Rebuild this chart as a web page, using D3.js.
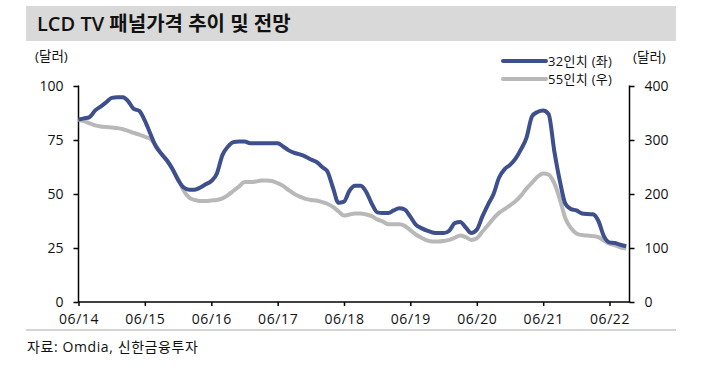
<!DOCTYPE html>
<html><head><meta charset="utf-8">
<script src="https://cdn.jsdelivr.net/npm/d3@7"></script>
<style>
body{margin:0;background:#fff;}
text{font-family:"Open Sans","Noto Sans CJK KR",sans-serif;fill:#111;}
</style></head>
<body><svg id="c" width="715" height="371"></svg>
<script>
// Monthly data, Jun 2014 .. Sep 2022
const startMonth = "2014-06";
const series32 = [84.5,85,85.6,88.7,90.5,92.5,94.5,94.8,94.8,93,89.4,88.5,84,78,72,68.5,65.5,61.5,56.5,53,
52,52,53,54.5,56,59.4,68,72,74,74.3,74.3,73.5,73.5,73.5,73.5,73.5,73.5,72,70.2,69,
68.3,67.3,66,64.8,62.5,60.5,53,46,46.5,51.5,53.8,53.8,51,45.5,41.5,41.2,41.2,42.4,43.4,42.8,
39.5,35.8,34.2,33,32.2,31.9,31.9,33,36.5,37,34.5,32,33.5,39.5,45,50,57.5,61.5,63.5,66.5,
71,76,86,88,88.7,87,70,56,45.5,43,42.4,41,40.7,40.6,37.5,30.5,27.6,27.3,26.5,25.8];
const series55 = [338,335,331,327,325,324,323,322,320,317,313,310,306,302,290,274,262,245,228,206,
193,189,187,187,188,189,192,198,206,214,222,222,223,225,225,224,220,215,207,200,
195,191,189,188,185,182,176,168,160,162,164,164,162,159,153,149,144,144,144,141,
133,125,119,114,112,112,113,115,119,123,120,115,118,130,142,155,165,172,179,187,
198,210,221,232,238,236,220,190,155,137,127,124,123,122,120,114,108,105,101,99];
const leftTicks = [0,25,50,75,100];
const rightTicks = [0,100,200,300,400];
const xTickYears = [2014,2015,2016,2017,2018,2019,2020,2021,2022];
const seriesNames = ["32인치 (좌)","55인치 (우)"];
const title = "LCD TV 패널가격 추이 및 전망";
const unitLabel = "(달러)";
const sourceText = "자료: Omdia, 신한금융투자";

const svg = d3.select("#c");
const parse = d3.utcParse("%Y-%m");
const t0 = parse(startMonth);
const dates = series32.map((_, i) => d3.utcMonth.offset(t0, i));

const L = 78.5, R = 629.5, B = 302, T = 86;
const x = d3.scaleUtc().domain([t0, d3.utcMonth.offset(t0, 96)]).range([L, 609.5]);
const yL = d3.scaleLinear().domain([0,100]).range([B, T]);
const yR = d3.scaleLinear().domain([0,400]).range([B, T]);

// Title band
svg.append("rect").attr("x",26).attr("y",6).attr("width",650).attr("height",35).attr("fill","#d9d9d9");
svg.append("text").attr("x",37).attr("y",31).attr("font-size",20).attr("font-weight",600).text(title);

// Unit labels
svg.append("text").attr("x",35).attr("y",61).attr("font-size",13.5).text(unitLabel);
svg.append("text").attr("x",633).attr("y",62).attr("font-size",13.5).text(unitLabel);

// Axes
const ax = svg.append("g").attr("stroke","#000").attr("stroke-width",1.5);
ax.append("line").attr("x1",L).attr("x2",L).attr("y1",T-0.5).attr("y2",B);
ax.append("line").attr("x1",R).attr("x2",R).attr("y1",T-0.5).attr("y2",B);
ax.append("line").attr("x1",L).attr("x2",R+0.75).attr("y1",B).attr("y2",B);

const gL = svg.append("g").attr("transform",`translate(${L},0)`)
  .call(d3.axisLeft(yL).tickValues(leftTicks).tickSize(5).tickPadding(10));
const gR = svg.append("g").attr("transform",`translate(${R},0)`)
  .call(d3.axisRight(yR).tickValues(rightTicks).tickSize(5).tickPadding(10));
const gB = svg.append("g").attr("transform",`translate(0,${B})`)
  .call(d3.axisBottom(x).tickValues(xTickYears.map(y => new Date(Date.UTC(y,5,1))))
    .tickFormat(d3.utcFormat("%m/%y")).tickSize(4).tickPadding(8));
[gL,gR,gB].forEach(g => {
  g.select(".domain").remove();
  g.selectAll(".tick line").attr("stroke","#000").attr("stroke-width",1.5);
  g.selectAll("text").attr("font-size",14).attr("fill","#111")
    .style("font-family",'"Open Sans","Noto Sans CJK KR",sans-serif');
});
gB.selectAll("text").attr("letter-spacing",0.6);

// Lines
const line55 = d3.line().x((d,i)=>x(dates[i])).y(d=>yR(d)).curve(d3.curveMonotoneX);
const line32 = d3.line().x((d,i)=>x(dates[i])).y(d=>yL(d)).curve(d3.curveMonotoneX);
svg.append("path").datum(series55).attr("d",line55).attr("fill","none")
  .attr("stroke","#b8b8b8").attr("stroke-width",4).attr("stroke-linejoin","round");
svg.append("path").datum(series32).attr("d",line32).attr("fill","none")
  .attr("stroke","#3d4f8c").attr("stroke-width",4).attr("stroke-linejoin","round");

// Legend
const colors = ["#3d4f8c","#b8b8b8"];
seriesNames.forEach((n,i) => {
  const yy = 61 + i*18;
  svg.append("line").attr("x1",503).attr("x2",546).attr("y1",yy).attr("y2",yy)
    .attr("stroke",colors[i]).attr("stroke-width",4).attr("stroke-linecap","round");
  svg.append("text").attr("x",548).attr("y",yy+4.5).attr("font-size",13).attr("letter-spacing",0.3).text(n);
});

// Source
svg.append("line").attr("x1",26).attr("x2",676).attr("y1",330).attr("y2",330).attr("stroke","#aaa").attr("stroke-width",1);
svg.append("text").attr("x",27).attr("y",352).attr("font-size",14).attr("letter-spacing",0.6).text(sourceText);
</script></body></html>
